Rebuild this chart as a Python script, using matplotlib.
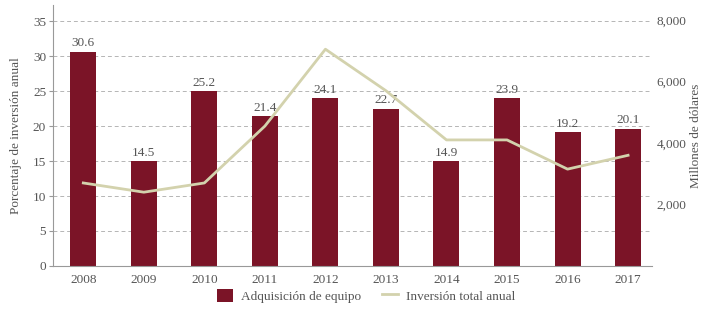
import matplotlib
matplotlib.use("Agg")
import matplotlib.pyplot as plt
from matplotlib.ticker import FuncFormatter

# Datos
anios = ["2008", "2009", "2010", "2011", "2012", "2013", "2014", "2015", "2016", "2017"]
adquisicion_equipo = [30.6, 15.0, 25.0, 21.4, 24.0, 22.5, 15.0, 24.0, 19.1, 19.6]   # altura de barra (%)
etiquetas_equipo = ["30.6", "14.5", "25.2", "21.4", "24.1", "22.7", "14.9", "23.9", "19.2", "20.1"]
inversion_total = [2700, 2400, 2700, 4550, 7050, 5700, 4100, 4100, 3150, 3600]      # millones de dólares

COLOR_BARRA = "#7b1427"
COLOR_LINEA = "#d3d2ad"
GRIS = "#555555"

plt.rcParams["font.family"] = ["Liberation Serif", "DejaVu Serif"]

fig = plt.figure(figsize=(7.09, 3.10), dpi=100)
ax = fig.add_axes([0.0748, 0.142, 0.8452, 0.842])
ax2 = ax.twinx()

x = list(range(len(anios)))
ax.bar(x, adquisicion_equipo, width=0.43, color=COLOR_BARRA,
       label="Adquisición de equipo", zorder=2)
for xi, h, txt in zip(x, adquisicion_equipo, etiquetas_equipo):
    ax.text(xi, h + 0.35, txt, ha="center", va="bottom", fontsize=9.5, color=GRIS)

ax2.plot(x, inversion_total, color=COLOR_LINEA, linewidth=2,
         label="Inversión total anual", zorder=3)

ax.set_xlim(-0.5, 9.4)
ax.set_ylim(0, 37.3)
ax2.set_ylim(0, 37.3 * 8000 / 35.15)

ax.set_yticks(range(0, 36, 5))
ax2.set_yticks([2000, 4000, 6000, 8000])
ax2.yaxis.set_major_formatter(FuncFormatter(lambda v, _: f"{v:,.0f}"))

ax.set_xticks(x)
ax.set_xticklabels(anios)

ax.yaxis.grid(True, linestyle=(0, (4, 3)), color="#b5b5b5", linewidth=0.7)
ax.set_axisbelow(True)

for s in ["top", "right"]:
    ax.spines[s].set_visible(False)
for s in ["top", "right", "left", "bottom"]:
    ax2.spines[s].set_visible(False)
ax.spines["left"].set_color("#999999")
ax.spines["bottom"].set_color("#999999")

ax.tick_params(axis="y", length=3, color="#999999", labelsize=9.5, labelcolor=GRIS, pad=2)
ax.tick_params(axis="x", length=0, labelsize=9.5, labelcolor=GRIS, pad=6)
ax2.tick_params(axis="y", length=0, labelsize=9.5, labelcolor=GRIS, pad=3)

ax.set_ylabel("Porcentaje de inversión anual", fontsize=9.5, color=GRIS, labelpad=8)
ax2.set_ylabel("Millones de dólares", fontsize=9.5, color=GRIS, labelpad=3)

h1, l1 = ax.get_legend_handles_labels()
h2, l2 = ax2.get_legend_handles_labels()
fig.legend(h1 + h2, l1 + l2, loc="lower center", bbox_to_anchor=(0.516, -0.015),
           ncol=2, frameon=False, prop={"family": "Liberation Serif", "size": 9.5},
           labelcolor=GRIS, handlelength=1.2, handleheight=1.1, handletextpad=0.6,
           columnspacing=1.6)

plt.savefig("out.png", dpi=100)
